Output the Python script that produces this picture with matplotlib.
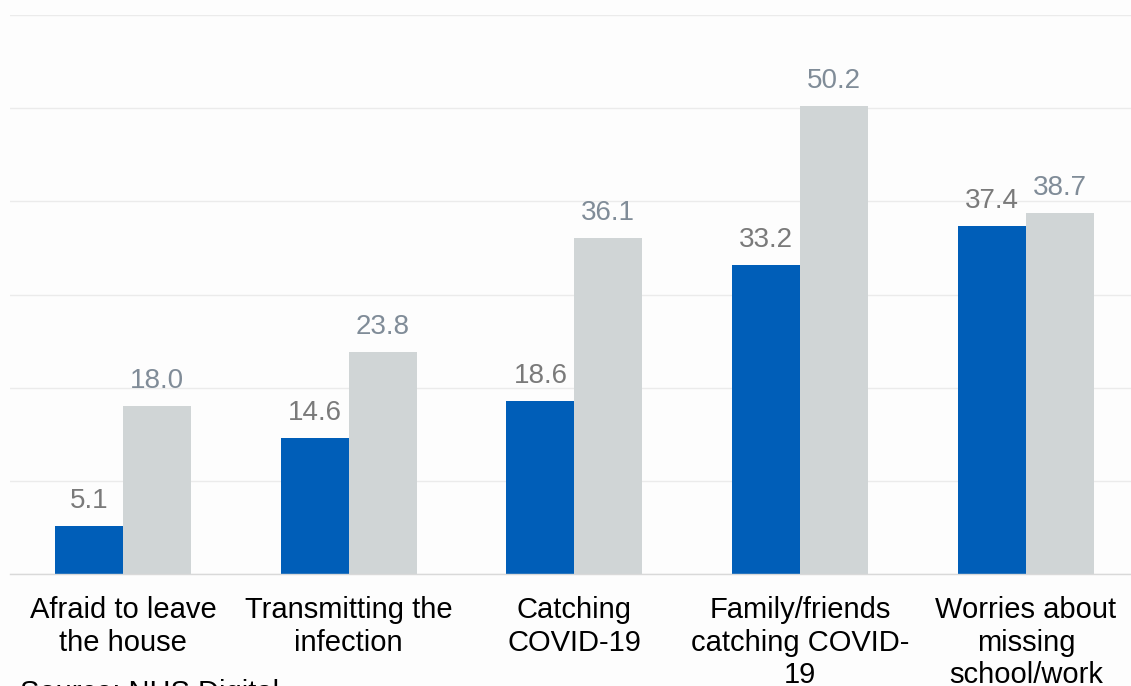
import matplotlib
matplotlib.use("Agg")
import matplotlib.pyplot as plt
import numpy as np

# Data
categories = [
    "Afraid to leave\nthe house",
    "Transmitting the\ninfection",
    "Catching\nCOVID-19",
    "Family/friends\ncatching COVID-\n19",
    "Worries about\nmissing\nschool/work",
]
series_blue = [5.1, 14.6, 18.6, 33.2, 37.4]
series_grey = [18.0, 23.8, 36.1, 50.2, 38.7]
y_ticks = [0, 10, 20, 30, 40, 50, 60]

blue = "#005EB8"
grey = "#D0D5D6"
blue_label = "#7A7A7A"
grey_label = "#808C98"

plt.rcParams["font.family"] = ["Liberation Sans", "DejaVu Sans"]

fig = plt.figure(figsize=(11.31, 6.86), dpi=100)
fig.patch.set_facecolor("#FDFDFD")
# axes placed in pixel terms of the reference (left 10px, 0 at y=574, 60 at y=15)
band = 225.75
ax = fig.add_axes([10 / 1131, (686 - 574) / 686, 5 * band / 1131, 559 / 686])
ax.set_facecolor("#FDFDFD")

x = np.arange(len(categories))
width = 68 / band

bars_b = ax.bar(x - width / 2, series_blue, width, color=blue, zorder=2)
bars_g = ax.bar(x + width / 2, series_grey, width, color=grey, zorder=2)

# Value labels above bars
for bars, vals, col in [(bars_b, series_blue, blue_label), (bars_g, series_grey, grey_label)]:
    for b, v in zip(bars, vals):
        ax.annotate(f"{v:.1f}", (b.get_x() + b.get_width() / 2, v),
                    xytext=(0, 13), textcoords="offset points",
                    ha="center", va="baseline", fontsize=20, color=col)

ax.set_xlim(-0.5, len(categories) - 0.5)
ax.set_ylim(0, 60)
ax.set_yticks(y_ticks)
ax.yaxis.grid(True, color="#EBEBEB", linewidth=1, zorder=0)
ax.tick_params(axis="y", left=False, labelleft=False)
ax.tick_params(axis="x", length=0, pad=16, labelsize=21, colors="#000000")
ax.set_xticks(x)
ax.set_xticklabels(categories, linespacing=1.2)

for side in ["top", "right", "left"]:
    ax.spines[side].set_visible(False)
ax.spines["bottom"].set_color("#D9D9D9")
ax.spines["bottom"].set_linewidth(1)
ax.spines["bottom"].set_zorder(3)

fig.text(20 / 1131, 1 - 679 / 686, "Source: NHS Digital", ha="left", va="top",
         fontsize=21, color="#000000")

fig.savefig("out.png", dpi=100, facecolor=fig.get_facecolor())
